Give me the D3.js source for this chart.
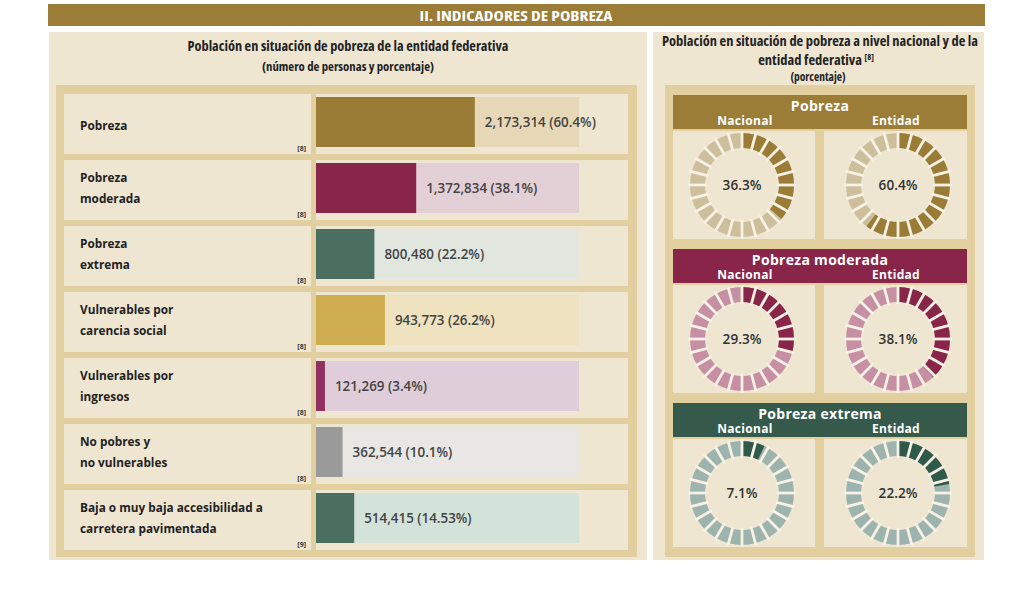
<!DOCTYPE html>
<html><head><meta charset="utf-8">
<script src="https://cdn.jsdelivr.net/npm/d3@7"></script>
<style>
html,body{margin:0;padding:0;background:#fff;}
svg{display:block;}
.cond{font-family:"Open Sans","Liberation Sans Narrow",sans-serif;font-stretch:condensed;font-weight:700;}
.os{font-family:"Open Sans",sans-serif;}
</style></head>
<body>
<svg id="chart" width="1024" height="590"></svg>
<script>
// ---- data ----
const categories = [["Pobreza"],["Pobreza","moderada"],["Pobreza","extrema"],["Vulnerables por","carencia social"],["Vulnerables por","ingresos"],["No pobres y","no vulnerables"],["Baja o muy baja accesibilidad a","carretera pavimentada"]];
const personas = [2173314, 1372834, 800480, 943773, 121269, 362544, 514415];
const porcentajes = [60.4, 38.1, 22.2, 26.2, 3.4, 10.1, 14.53];
const notas = ["[8]","[8]","[8]","[8]","[8]","[8]","[9]"];
const barColors = ["#9b7c36","#892548","#4a6e5f","#cfae52","#933062","#9b9a9a","#4a6e5f"];
const barBgColors = ["#e6d8b6","#e3d0d7","#e1e6de","#efe3bf","#dfcdd9","#e9e7e4","#d4e3da"];
const groups = ["Pobreza","Pobreza moderada","Pobreza extrema"];
const nacional = [36.3, 29.3, 7.1];
const entidad = [60.4, 38.1, 22.2];
const headColors = ["#9b7d37","#892548","#355a4c"];
const fillColors = ["#9b7c36","#892548","#2f5a4a"];
const emptyColors = ["#cdbf9c","#c78fa3","#9db3ae"];

const CREAM = "#efe6d2", TAN = "#e1cf9f", GAP = "#f8f2e6";
const svg = d3.select("#chart");
const fmtN = d3.format(",");
const fmtP = p => (Math.round(p*10)/10 === p ? p.toFixed(1) : p.toFixed(2)) + "%";

function fitText(sel, len){ return sel.attr("textLength",len).attr("lengthAdjust","spacingAndGlyphs"); }

// header
svg.append("rect").attr("x",48).attr("y",4).attr("width",937).attr("height",22).attr("fill","#9b7d37");
fitText(svg.append("text").attr("class","cond").attr("x",516).attr("y",20.5).attr("text-anchor","middle")
  .attr("fill","#fff").attr("font-size",15).text("II. INDICADORES DE POBREZA"),193);

// ---- left panel ----
svg.append("rect").attr("x",49).attr("y",32).attr("width",598).attr("height",528).attr("fill",CREAM);
fitText(svg.append("text").attr("class","cond").attr("x",348).attr("y",51).attr("text-anchor","middle")
  .attr("fill","#222").attr("font-size",13.5).text("Población en situación de pobreza de la entidad federativa"),321);
fitText(svg.append("text").attr("class","cond").attr("x",348).attr("y",70.5).attr("text-anchor","middle")
  .attr("fill","#222").attr("font-size",11.5).text("(número de personas y porcentaje)"),172);
svg.append("rect").attr("x",56).attr("y",85).attr("width",581).attr("height",472).attr("fill",TAN);

const rowY = d3.scaleBand().domain(d3.range(categories.length)).range([94, 94+66*6+60]).paddingInner(6/66).paddingOuter(0).align(0);
const x = d3.scaleLinear().domain([0,100]).range([316,579]);

const rows = svg.append("g").selectAll("g").data(categories).join("g");
rows.append("rect").attr("x",64).attr("y",(d,i)=>rowY(i)).attr("width",247).attr("height",rowY.bandwidth()).attr("fill",CREAM);
rows.append("rect").attr("x",316).attr("y",(d,i)=>rowY(i)).attr("width",312).attr("height",rowY.bandwidth()).attr("fill",CREAM);
rows.append("rect").attr("x",x(0)).attr("y",(d,i)=>rowY(i)+3).attr("width",x(100)-x(0)).attr("height",50).attr("fill",(d,i)=>barBgColors[i]);
rows.append("rect").attr("x",x(0)).attr("y",(d,i)=>rowY(i)+3).attr("width",(d,i)=>x(porcentajes[i])-x(0)).attr("height",50).attr("fill",(d,i)=>barColors[i]);
rows.append("text").attr("class","os").attr("x",(d,i)=>x(porcentajes[i])+10).attr("y",(d,i)=>rowY(i)+28+4.5)
  .attr("font-size",13.4).attr("font-weight",600).attr("fill","#444")
  .text((d,i)=>fmtN(personas[i])+" ("+fmtP(porcentajes[i])+")");
rows.each(function(d,i){
  const g = d3.select(this);
  const y0 = rowY(i);
  const t = g.append("text").attr("class","os").attr("font-size",11.8).attr("font-weight",700).attr("fill","#222");
  if (d.length===1) {
    t.append("tspan").attr("x",80).attr("y",y0+36).text(d[0]);
  } else {
    d.forEach((s,k)=>t.append("tspan").attr("x",80).attr("y",y0+22+k*21).text(s));
  }
  g.append("text").attr("class","os").attr("x",306).attr("y",y0+rowY.bandwidth()-3).attr("text-anchor","end")
    .attr("font-size",7).attr("font-weight",700).attr("fill","#333").text(notas[i]);
});

// ---- right panel ----
svg.append("rect").attr("x",653).attr("y",32).attr("width",331).attr("height",528).attr("fill",CREAM);
const rt = svg.append("g").attr("class","cond").attr("fill","#222").attr("text-anchor","middle");
fitText(rt.append("text").attr("x",820).attr("y",46).attr("font-size",13.5).text("Población en situación de pobreza a nivel nacional y de la"),316);
const t2 = rt.append("text").attr("x",816).attr("y",65).attr("font-size",14.5);
t2.append("tspan").text("entidad federativa ");
t2.append("tspan").attr("font-size",8.5).attr("dy",-5).text("[8]");
rt.append("text").attr("x",818).attr("y",81).attr("font-size",11.5).text("(porcentaje)");
svg.append("rect").attr("x",665).attr("y",85).attr("width",310).attr("height",472).attr("fill",TAN);

const secY = d3.scaleBand().domain(d3.range(groups.length)).range([95, 95+154*3]).paddingInner(0).align(0);
const nSeg = 24;
const rIn = 37, rOut = 52;
const arc = d3.arc().innerRadius(rIn).outerRadius(rOut);
const angle = d3.scaleLinear().domain([0,100]).range([0,2*Math.PI]);

function donut(g, cx, cy, val, gi){
  const dg = g.append("g").attr("transform",`translate(${cx},${cy})`);
  const segs = d3.range(nSeg).map(k=>({s:k*2*Math.PI/nSeg, e:(k+1)*2*Math.PI/nSeg}));
  dg.selectAll("path.e").data(segs).join("path").attr("class","e")
    .attr("d",d=>arc({startAngle:d.s,endAngle:d.e})).attr("fill",emptyColors[gi]);
  const a = angle(val);
  dg.selectAll("path.f").data(segs.filter(d=>d.s<a)).join("path").attr("class","f")
    .attr("d",d=>arc({startAngle:d.s,endAngle:Math.min(d.e,a)})).attr("fill",fillColors[gi]);
  dg.selectAll("line").data(segs).join("line")
    .attr("x1",d=>Math.sin(d.s)*(rIn-2)).attr("y1",d=>-Math.cos(d.s)*(rIn-2))
    .attr("x2",d=>Math.sin(d.s)*(rOut+2)).attr("y2",d=>-Math.cos(d.s)*(rOut+2))
    .attr("stroke",GAP).attr("stroke-width",2.8);
  dg.append("text").attr("class","os").attr("y",5).attr("text-anchor","middle")
    .attr("font-size",13.6).attr("font-weight",600).attr("fill","#333").text(fmtP(val));
}

groups.forEach((name,gi)=>{
  const y0 = secY(gi);
  const g = svg.append("g");
  g.append("rect").attr("x",673).attr("y",y0).attr("width",294).attr("height",34).attr("fill",headColors[gi]);
  g.append("text").attr("class","os").attr("x",820).attr("y",y0+16).attr("text-anchor","middle")
    .attr("font-size",14).attr("font-weight",700).attr("fill","#fff").attr("letter-spacing",0.3).text(name);
  g.append("text").attr("class","os").attr("x",745).attr("y",y0+30).attr("text-anchor","middle")
    .attr("font-size",12).attr("font-weight",700).attr("fill","#fff").attr("letter-spacing",0.3).text("Nacional");
  g.append("text").attr("class","os").attr("x",896).attr("y",y0+30).attr("text-anchor","middle")
    .attr("font-size",12).attr("font-weight",700).attr("fill","#fff").attr("letter-spacing",0.3).text("Entidad");
  g.append("rect").attr("x",673).attr("y",y0+36).attr("width",142).attr("height",108).attr("fill",CREAM);
  g.append("rect").attr("x",824).attr("y",y0+36).attr("width",143).attr("height",108).attr("fill",CREAM);
  donut(g, 742, y0+90, nacional[gi], gi);
  donut(g, 898, y0+90, entidad[gi], gi);
});
</script>
</body></html>
